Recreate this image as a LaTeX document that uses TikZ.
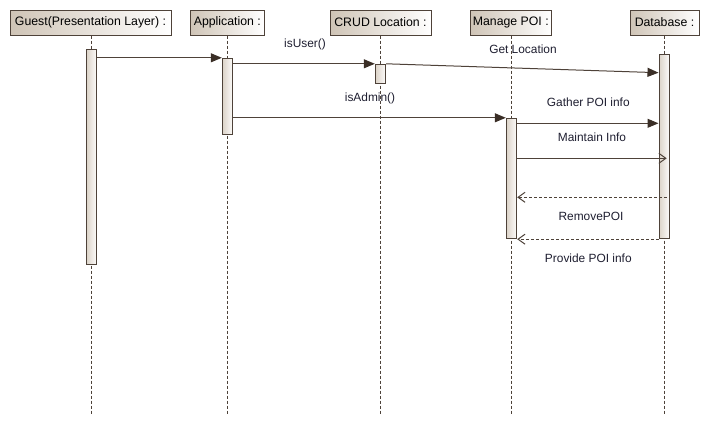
\documentclass[tikz,border=0pt]{standalone}
\usepackage{fontspec}
\setmainfont{Liberation Sans}
\usetikzlibrary{arrows.meta}
\definecolor{ln}{HTML}{4E4239}
\definecolor{hd}{HTML}{3A2E26}
\definecolor{tan}{HTML}{CFC4B6}
\definecolor{bartan}{HTML}{DCD3C8}
\definecolor{txt}{HTML}{1E1E30}
\begin{document}
\begin{tikzpicture}[x=1pt,y=-1pt,
  head/.style={draw=ln,line width=1pt,left color=tan,right color=white,minimum height=25pt,inner sep=0pt,font=\fontsize{12.3}{13}\selectfont,text=black},
  bar/.style={draw=ln,line width=1pt,left color=bartan,right color=white!92!bartan,minimum width=10.4pt,inner sep=0pt},
  life/.style={draw=ln,line width=0.9pt,dash pattern=on 3pt off 2pt},
  msg/.style={draw=ln,line width=1pt,-{Triangle[length=11pt,width=9pt,color=hd]}},
  omsg/.style={draw=ln,line width=1pt,-{Straight Barb[length=7pt,width=10pt]}},
  rmsg/.style={draw=ln,line width=1pt,dash pattern=on 3pt off 2pt,-{Straight Barb[length=7pt,width=10pt]}},
  lbl/.style={font=\fontsize{11.9}{13}\selectfont,text=txt,inner sep=0pt}]
\useasboundingbox (0,0) rectangle (709,425);
% headers
\node[head,minimum width=161pt] (g) at (90.5,22.6) {Guest(Presentation Layer) :};
\node[head,minimum width=74pt] (a) at (227.3,22.6) {Application :};
\node[head,minimum width=101pt] (c) at (380.5,22.6) {CRUD Location :};
\node[head,minimum width=81pt] (m) at (510.8,22.6) {Manage POI :};
\node[head,minimum width=69pt] (d) at (664.5,22.6) {Database :};
% lifeline ends
\coordinate (ge) at (91.3,415);
\coordinate (ae) at (227.3,415);
\coordinate (ce) at (380.3,415);
\coordinate (me) at (511.3,415);
\coordinate (de) at (664.3,415);
\draw[life] (g.south -| ge) -- (ge);
\draw[life] (a.south -| ae) -- (ae);
\draw[life] (c.south -| ce) -- (ce);
\draw[life] (m.south -| me) -- (me);
\draw[life] (d.south -| de) -- (de);
% activation bars
\node[bar,minimum height=214.7pt] (ga) at (91.5,157.3) {};
\node[bar,minimum height=76.4pt] (aa) at (227.5,96.5) {};
\node[bar,minimum height=19pt] (ca) at (380.5,73.8) {};
\node[bar,minimum height=120.4pt] (ma) at (511.5,178.5) {};
\node[bar,minimum height=183.7pt] (da) at (664.2,146.85) {};
% messages
\draw[msg] (ga.east |- aa.north) -- (aa.north west);
\draw[msg] (aa.east |- ca.north) -- (ca.north west);
\coordinate (p3) at (659,72.7);
\draw[msg] (ca.north east) -- (da.west |- p3);
\draw[msg] (aa.east |- ma.north) -- (ma.north west);
\coordinate (p5) at (659,123.3);
\draw[msg] (ma.east |- p5) -- (da.west |- p5);
\coordinate (p6) at (666.7,158.3);
\draw[omsg] (ma.east |- p6) -- (p6);
\coordinate (p7) at (666.7,197.3);
\draw[rmsg] (p7) -- (ma.east |- p7);
\draw[rmsg] (da.south west) -- (ma.south east);
% labels
\node[lbl] (l1) at (305,44) {isUser()};
\node[lbl] (l2) at (523,49) {Get Location};
\node[lbl] (l3) at (370,98) {isAdmin()};
\node[lbl] (l4) at (588.3,102) {Gather POI info};
\node[lbl] (l5) at (592,137.7) {Maintain Info};
\node[lbl] (l6) at (591,216.7) {RemovePOI};
\node[lbl] (l7) at (588.3,258.3) {Provide POI info};
\end{tikzpicture}
\end{document}
